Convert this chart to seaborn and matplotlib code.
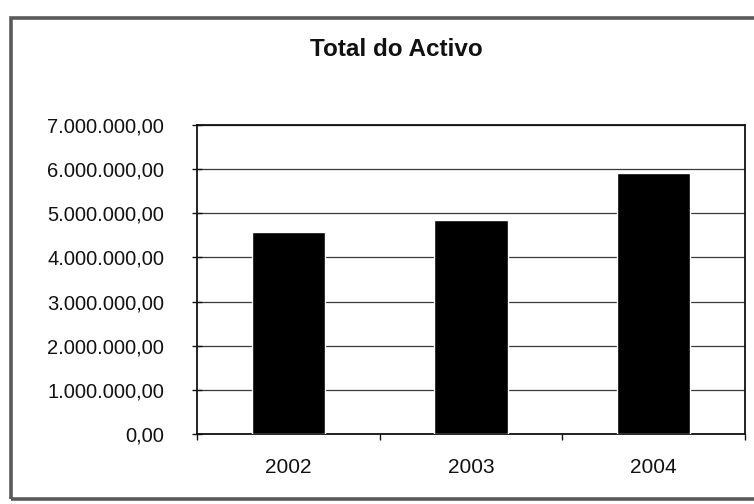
import matplotlib
matplotlib.use("Agg")
import matplotlib.pyplot as plt
import matplotlib.ticker as mticker
from matplotlib.patches import Rectangle
import pandas as pd
import seaborn as sns

# Balance-sheet totals per year
years = ["2002", "2003", "2004"]
total_activo = [4570000, 4840000, 5920000]
y_ticks = [0, 1000000, 2000000, 3000000, 4000000, 5000000, 6000000, 7000000]

df = pd.DataFrame({"Ano": years, "Total": total_activo})

sns.set_theme(style="white")
plt.rcParams["font.family"] = ["Liberation Sans", "DejaVu Sans"]

W, H = 754, 504
fig = plt.figure(figsize=(W / 100, H / 100), dpi=100)
fig.patch.set_facecolor("white")

# outer chart frame
fig.patches.append(Rectangle((11 / W, 1 - 499 / H), (W + 10 - 11) / W, (499 - 18) / H,
                             transform=fig.transFigure, fill=False,
                             edgecolor="#5a5a5a", linewidth=2.6, zorder=0))

ax = fig.add_axes([197 / W, 1 - 434 / H, (745 - 197) / W, (434 - 125) / H])
sns.barplot(data=df, x="Ano", y="Total", color="black", width=0.4,
            saturation=1, ax=ax, zorder=3)

ax.set_ylim(0, 7000000)
ax.set_xlim(-0.5, 2.5)
ax.set_yticks(y_ticks)


def fmt_pt(v, _pos):
    s = f"{v:,.2f}"
    return s.replace(",", "X").replace(".", ",").replace("X", ".")


ax.yaxis.set_major_formatter(mticker.FuncFormatter(fmt_pt))
ax.grid(axis="y", color="#3a3a3a", linewidth=0.9, zorder=1)
ax.set_axisbelow(True)

for sp in ax.spines.values():
    sp.set_color("#111111")
    sp.set_linewidth(1.3)

ax.tick_params(axis="y", which="major", direction="inout", length=7, width=1,
               color="#111111", pad=20, labelsize=14.5, labelcolor="#111111", left=True)
ax.tick_params(axis="x", which="major", length=0, pad=17, labelsize=15,
               labelcolor="#111111")
ax.set_xticks([-0.5, 0.5, 1.5, 2.5], minor=True)
ax.tick_params(axis="x", which="minor", direction="out", length=4, width=1,
               color="#111111", bottom=True)

ax.set_xlabel("")
ax.set_ylabel("")
fig.text(396 / W, 1 - 50 / H, "Total do Activo", ha="center", va="center",
         fontsize=17.5, fontweight="bold", color="#111111")

fig.savefig("out.png", dpi=100, facecolor="white")
